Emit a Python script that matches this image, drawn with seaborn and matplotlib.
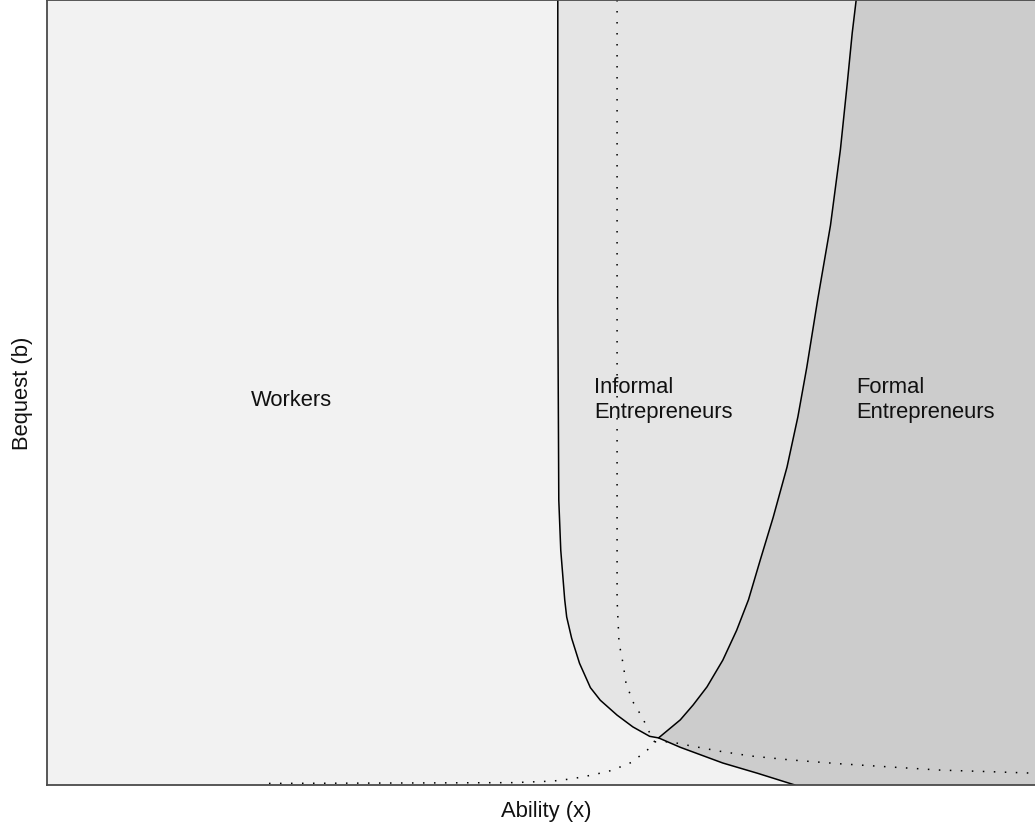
import numpy as np
import matplotlib
matplotlib.use("Agg")
import matplotlib.pyplot as plt
import seaborn as sns

# Frontera trabajadores / informales (linea solida), de arriba hacia abajo
wi_x = [0.517, 0.517, 0.518, 0.520, 0.524, 0.526, 0.531, 0.539, 0.550, 0.560,
        0.577, 0.593, 0.610, 0.619, 0.641, 0.684, 0.719, 0.757]
wi_y = [1.000, 0.618, 0.363, 0.299, 0.236, 0.214, 0.187, 0.155, 0.124, 0.108,
        0.089, 0.074, 0.062, 0.060, 0.048, 0.028, 0.015, 0.000]
n_int = 13  # indice del punto de cruce

# Frontera informales / formales (linea solida), desde el cruce hacia arriba
if_x = [0.619, 0.641, 0.654, 0.668, 0.684, 0.698, 0.710, 0.722, 0.735, 0.749,
        0.760, 0.769, 0.780, 0.793, 0.803, 0.810, 0.815, 0.819]
if_y = [0.060, 0.083, 0.102, 0.125, 0.159, 0.197, 0.236, 0.287, 0.341, 0.405,
        0.469, 0.532, 0.618, 0.713, 0.809, 0.894, 0.958, 1.000]

# Curva punteada (otro escenario), de arriba, baja y vuelve a la izquierda
d1_x = [0.577, 0.577, 0.579, 0.583, 0.586, 0.593, 0.603, 0.612, 0.615, 0.608,
        0.600, 0.592, 0.582, 0.573, 0.553, 0.532, 0.512, 0.472, 0.219]
d1_y = [1.000, 0.236, 0.181, 0.155, 0.130, 0.106, 0.085, 0.061, 0.055, 0.045,
        0.037, 0.029, 0.024, 0.019, 0.013, 0.008, 0.005, 0.003, 0.002]

# Curva punteada hacia la derecha desde el cruce
d2_x = [0.615, 0.631, 0.651, 0.681, 0.712, 0.752, 0.803, 0.853, 0.904, 0.954, 1.000]
d2_y = [0.055, 0.055, 0.050, 0.043, 0.037, 0.032, 0.027, 0.023, 0.019, 0.017, 0.015]

labels = ["Workers", "Informal\nEntrepreneurs", "Formal\nEntrepreneurs"]
label_x = [0.247, 0.554, 0.819]
label_y = [0.483, 0.468, 0.468]

sns.set_style("white")
plt.rcParams["font.family"] = ["Liberation Sans", "DejaVu Sans"]

W, H = 1035, 827
fig = plt.figure(figsize=(W / 100, H / 100), dpi=100)
x0, x1, y0 = 47, 1045, 785
ax = fig.add_axes([x0 / W, (H - y0) / H, (x1 - x0) / W, y0 / H])
ax.set_facecolor("#f2f2f2")

# regiones sombreadas
inf_x = wi_x[:n_int + 1] + if_x
inf_y = wi_y[:n_int + 1] + if_y
ax.fill(inf_x, inf_y, color="#e5e5e5", lw=0)
xmax = (x1 - x0) / 988
for_x = if_x[::-1] + wi_x[n_int:] + [xmax, xmax]
for_y = if_y[::-1] + wi_y[n_int:] + [0, 1]
ax.fill(for_x, for_y, color="#cccccc", lw=0)

# curvas
dots = (0, (1, 6.2))
sns.lineplot(x=d1_x, y=d1_y, sort=False, estimator=None, color="black",
             lw=1.1, linestyle=dots, ax=ax)
sns.lineplot(x=d2_x, y=d2_y, sort=False, estimator=None, color="black",
             lw=1.1, linestyle=dots, ax=ax)
sns.lineplot(x=wi_x, y=wi_y, sort=False, estimator=None, color="black",
             lw=1.1, ax=ax)
sns.lineplot(x=if_x, y=if_y, sort=False, estimator=None, color="black",
             lw=1.1, ax=ax)

ax.text(label_x[0], label_y[0], labels[0], ha="center", va="baseline",
        fontsize=15.8, color="#111111")
for i in [1, 2]:
    ax.text(label_x[i], label_y[i], labels[i], ha="left", va="baseline",
            fontsize=15.8, color="#111111", linespacing=1.2)

ax.set_xlim(0, xmax)
ax.set_ylim(0, 1)
ax.set_xticks([])
ax.set_yticks([])
ax.set_xlabel("")
ax.set_ylabel("")
for s in ax.spines.values():
    s.set_color("#4a4a4a")
    s.set_linewidth(1.3)

fig.text(546 / W, (H - 817) / H, "Ability (x)", ha="center", va="baseline",
         fontsize=15.8, color="#111111")
fig.text(28 / W, (H - 393) / H, "Bequest (b)", ha="center", va="baseline",
         rotation=90, rotation_mode="anchor", fontsize=15.8, color="#111111")

fig.savefig("out.png", dpi=100)
